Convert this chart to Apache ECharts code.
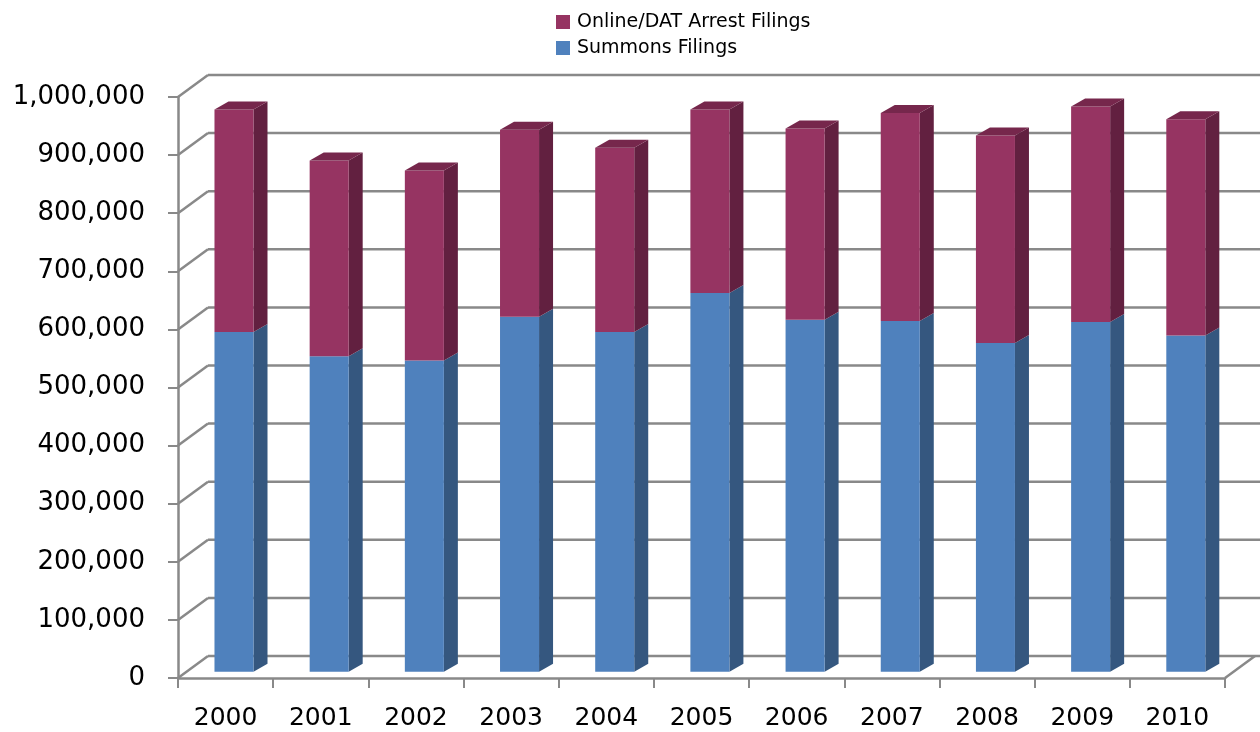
<!DOCTYPE html>
<html>
<head>
<meta charset="utf-8">
<title>Filings 2000-2010</title>
<script src="https://cdn.jsdelivr.net/npm/echarts@6/dist/echarts.min.js"></script>
<style>
  html, body { margin: 0; padding: 0; background: #fff; }
  #chart { width: 1260px; height: 732px; }
</style>
</head>
<body>
<div id="chart"></div>
<script>
// values
var years = ['2000', '2001', '2002', '2003', '2004', '2005', '2006', '2007', '2008', '2009', '2010']
var summons = [585000, 543000, 536000, 611000, 585000, 652000, 606000, 604000, 566000, 602000, 579000]
var arrests = [383000, 337000, 327000, 322000, 317000, 316000, 329000, 358000, 357000, 371000, 372000]
var yTicks = [0, 100000, 200000, 300000, 400000, 500000, 600000, 700000, 800000, 900000, 1000000]

var FONT = 'DejaVu Sans'
var GRID_COLOR = '#898989'
var WALL = [30, -22]      // depth of the back wall, px
var BAR_POS = 0.28        // bars sit at this fraction of the depth
var BAR_W = 0.41          // front face width as part of the band
var BAR_D = [14, -8]      // depth of a bar, px

var blue = { front: '#4F81BD', side: '#35577F', top: '#3F6797' }
var plum = { front: '#963462', side: '#622040', top: '#76274C' }

var chart = echarts.init(document.getElementById('chart'))

function wallItem (params, api) {
  var rect = params.coordSys
  var v = api.value(1)
  var y = api.coord([0, v])[1]
  var x = rect.x
  var children = [
    { type: 'line', shape: { x1: x, y1: y, x2: x + WALL[0], y2: y + WALL[1] } },
    { type: 'line', shape: { x1: x + WALL[0], y1: y + WALL[1], x2: rect.x + rect.width + WALL[0] + 5, y2: y + WALL[1] } }
  ]
  if (v === 0) {
    var xr = rect.x + rect.width
    children.push({ type: 'line', shape: { x1: xr, y1: y, x2: xr + WALL[0], y2: y + WALL[1] } })
  }
  children.forEach(function (c) {
    c.style = { stroke: GRID_COLOR, lineWidth: 2.5 }
  })
  return { type: 'group', children: children }
}

function barItem (colors, withTop) {
  return function (params, api) {
    var i = api.value(0)
    var lo = api.coord([i, api.value(1)])
    var hi = api.coord([i, api.value(2)])
    var band = api.size([1, 0])[0]
    var w = band * BAR_W
    var ox = WALL[0] * BAR_POS
    var oy = WALL[1] * BAR_POS
    var x0 = lo[0] + ox - w / 2
    var x1 = x0 + w
    var yb = lo[1] + oy
    var yt = hi[1] + oy
    var dx = BAR_D[0]
    var dy = BAR_D[1]
    var kids = [
      { type: 'polygon', shape: { points: [[x1, yt], [x1 + dx, yt + dy], [x1 + dx, yb + dy], [x1, yb]] }, style: { fill: colors.side } },
      { type: 'rect', shape: { x: x0, y: yt, width: w, height: yb - yt }, style: { fill: colors.front } }
    ]
    if (withTop) {
      kids.push({ type: 'polygon', shape: { points: [[x0, yt], [x0 + dx, yt + dy], [x1 + dx, yt + dy], [x1, yt]] }, style: { fill: colors.top } })
    }
    return { type: 'group', children: kids }
  }
}

var summonsData = years.map(function (y, i) { return [i, 0, summons[i]] })
var arrestData = years.map(function (y, i) { return [i, summons[i], summons[i] + arrests[i]] })
var wallData = yTicks.map(function (v) { return [0, v] })

var option = {
  animation: false,
  textStyle: { fontFamily: FONT },
  legend: {
    orient: 'vertical',
    left: 556,
    top: 12,
    padding: 0,
    itemWidth: 14,
    itemHeight: 14,
    itemGap: 6,
    icon: 'rect',
    textStyle: { fontFamily: FONT, fontSize: 19, color: '#000', lineHeight: 20, padding: [0, 0, 0, 2] },
    data: ['Online/DAT Arrest Filings', 'Summons Filings']
  },
  grid: { left: 178, right: 35, top: 97, bottom: 54 },
  xAxis: {
    type: 'category',
    data: years,
    axisLine: { lineStyle: { color: GRID_COLOR, width: 2.5 } },
    axisTick: { show: true, length: 10, lineStyle: { color: GRID_COLOR, width: 2 } },
    axisLabel: { color: '#000', fontFamily: FONT, fontSize: 25, margin: 28 },
    splitLine: { show: false }
  },
  yAxis: {
    type: 'value',
    min: 0,
    max: 1000000,
    interval: 100000,
    axisLine: { show: true, lineStyle: { color: GRID_COLOR, width: 2.5 } },
    axisTick: { show: true, length: 10, lineStyle: { color: GRID_COLOR, width: 2 } },
    axisLabel: {
      color: '#000',
      fontFamily: FONT,
      fontSize: 26,
      margin: 33,
      formatter: function (v) { return v.toLocaleString('en-US') }
    },
    splitLine: { show: false }
  },
  series: [
    {
      name: 'walls',
      type: 'custom',
      renderItem: wallItem,
      data: wallData,
      encode: { x: 0, y: 1 },
      silent: true,
      z: 1
    },
    {
      name: 'Summons Filings',
      type: 'custom',
      renderItem: barItem(blue, false),
      itemStyle: { color: blue.front },
      data: summonsData,
      encode: { x: 0, y: [1, 2] },
      z: 2
    },
    {
      name: 'Online/DAT Arrest Filings',
      type: 'custom',
      renderItem: barItem(plum, true),
      itemStyle: { color: plum.front },
      data: arrestData,
      encode: { x: 0, y: [1, 2] },
      z: 3
    }
  ]
}

chart.setOption(option)
</script>
</body>
</html>
